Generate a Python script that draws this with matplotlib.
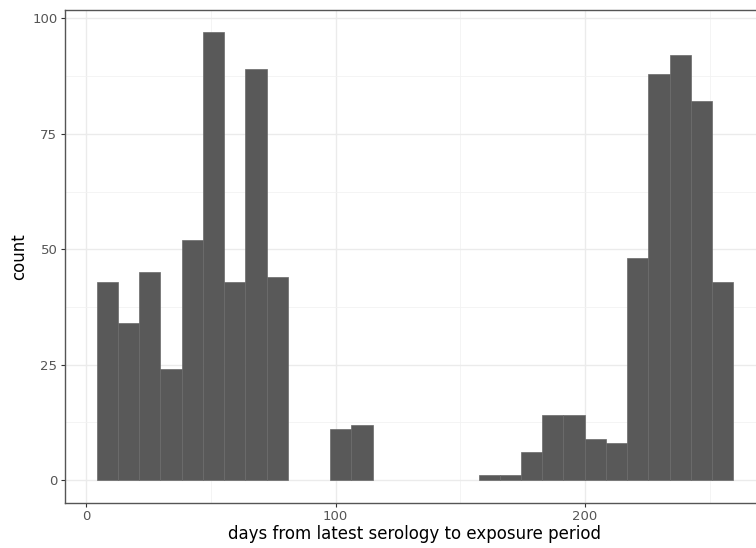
import numpy as np
import matplotlib.pyplot as plt

# histogram of days from latest serology to exposure period (30 bins)
bin_start = 4.2      # left edge of first bin (days)
bin_width = 8.51     # days per bin
counts = [43, 34, 45, 24, 52, 97, 43, 89, 44, 0,
          0, 11, 12, 0, 0, 0, 0, 0, 1, 1,
          6, 14, 14, 9, 8, 48, 88, 92, 82, 43]

x_ticks = [0, 100, 200]
y_ticks = [0, 25, 50, 75, 100]


def plot_hist(counts):
    counts = np.array(counts)
    left = bin_start + bin_width * np.arange(len(counts))
    keep = counts > 0

    fig = plt.figure(figsize=(7.56, 5.48), dpi=100)
    # panel runs past the right edge, like the cropped original
    ax = fig.add_axes([65 / 756, 45.5 / 548, 700 / 756, 492.7 / 548])

    ax.bar(left[keep], counts[keep], width=bin_width, align='edge',
           color='#595959', edgecolor='#6a6a6a', linewidth=0.5, zorder=3)

    span = left[-1] + bin_width - left[0]
    ax.set_xlim(left[0] - 0.05 * span, left[-1] + bin_width + 0.05 * span)
    ax.set_ylim(-0.05 * max(counts), 1.05 * max(counts))

    ax.set_xticks(x_ticks)
    ax.set_yticks(y_ticks)
    ax.set_xticks([50, 150, 250], minor=True)
    ax.set_yticks([12.5, 37.5, 62.5, 87.5], minor=True)
    ax.grid(which='major', color='#ebebeb', linewidth=1.0, zorder=0)
    ax.grid(which='minor', color='#f2f2f2', linewidth=0.6, zorder=0)
    ax.set_axisbelow(True)

    ax.tick_params(which='major', length=3, width=0.8, color='#333333',
                   labelcolor='#555555', labelsize=9.5, pad=2.5)
    ax.tick_params(which='minor', length=0)
    for s in ax.spines.values():
        s.set_color('#555555')
        s.set_linewidth(1.0)

    ax.set_xlabel('days from latest serology to exposure period',
                  fontsize=12, labelpad=1)
    ax.set_ylabel('count', fontsize=12, labelpad=3)

    fig.savefig('out.png', dpi=100)


if __name__ == "__main__":
    plot_hist(counts)
